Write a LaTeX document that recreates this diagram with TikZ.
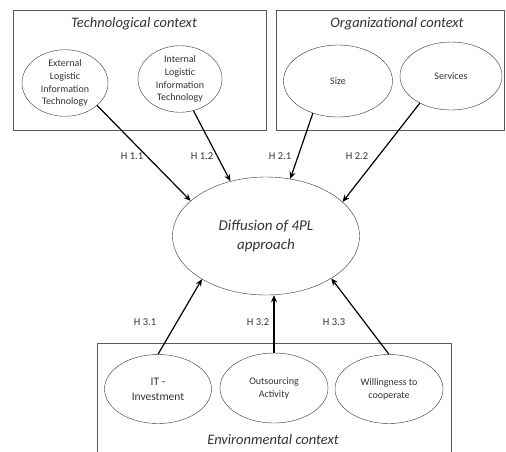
\documentclass[tikz,border=0pt]{standalone}
\usepackage{fontspec}
\setmainfont{Carlito}
\usetikzlibrary{arrows.meta,shapes.geometric}

\begin{document}
\begin{tikzpicture}[x=1pt,y=-1pt,
    context/.style={draw=black!65,semithick},
    ctxtitle/.style={font=\fontsize{14.5}{17}\selectfont\itshape,text=black!80},
    factor/.style={draw=black!80,ellipse,inner sep=0pt,align=center,text=black!80,font=\fontsize{10}{12.8}\selectfont},
    hyp/.style={font=\fontsize{10.5}{12}\selectfont,text=black!80},
    >={Stealth[length=7pt,width=6pt]}
]
\useasboundingbox (0,0) rectangle (506,451);

% context boxes
\draw[context] (13,10) rectangle (266,130);
\draw[context] (276,10) rectangle (504,130);
\draw[context] (97,455) -- (97,343) -- (451,343) -- (451,455);

\node[ctxtitle] (techtitle) at (134,24) {Technological context};
\node[ctxtitle] (orgtitle) at (397,24) {Organizational context};
\node[ctxtitle] (envtitle) at (273,440) {Environmental context};

% factors
\node[factor,minimum width=86pt,minimum height=60pt] (extlit) at (65,83) {External\\Logistic\\Information\\Technology};
\node[factor,minimum width=84pt,minimum height=62pt] (intlit) at (180,79) {Internal\\Logistic\\Information\\Technology};
\node[factor,minimum width=109pt,minimum height=72pt] (size) at (338,81) {Size};
\node[factor,minimum width=102pt,minimum height=68pt] (services) at (451,76) {Services};

\node[factor,minimum width=187pt,minimum height=118pt,font=\fontsize{15}{19}\selectfont\itshape] (diffusion) at (266,236) {Diffusion of 4PL\\approach};

\node[factor,minimum width=107pt,minimum height=69pt,font=\fontsize{11.5}{15}\selectfont] (itinv) at (158,389) {IT -\\Investment};
\node[factor,minimum width=108pt,minimum height=70pt] (outsrc) at (274,388) {Outsourcing\\Activity};
\node[factor,minimum width=108pt,minimum height=69pt] (willing) at (389,389) {Willingness to\\cooperate};

% hypotheses
\draw[->,line width=1.2pt] (extlit.-35) -- (diffusion.155);
\draw[->,line width=1.2pt] (intlit.-67) -- (diffusion.123);
\draw[->,line width=1.2pt] (size.-128) -- (diffusion.67);
\draw[->,line width=1.2pt] (services.-139) -- (diffusion.24);
\draw[->,line width=1.2pt] (itinv.north) -- (diffusion.-146);
\draw[->,line width=1.2pt] (outsrc.north) -- (outsrc.north |- diffusion.south);
\draw[->,line width=1.2pt] (willing.north) -- (diffusion.-33);

\node[hyp] (h11) at (132,156) {H 1.1};
\node[hyp] (h12) at (202,156) {H 1.2};
\node[hyp] (h21) at (280,156) {H 2.1};
\node[hyp] (h22) at (357,156) {H 2.2};
\node[hyp] (h31) at (145,322) {H 3.1};
\node[hyp] (h32) at (258,322) {H 3.2};
\node[hyp] (h33) at (334,322) {H 3.3};
\end{tikzpicture}
\end{document}
